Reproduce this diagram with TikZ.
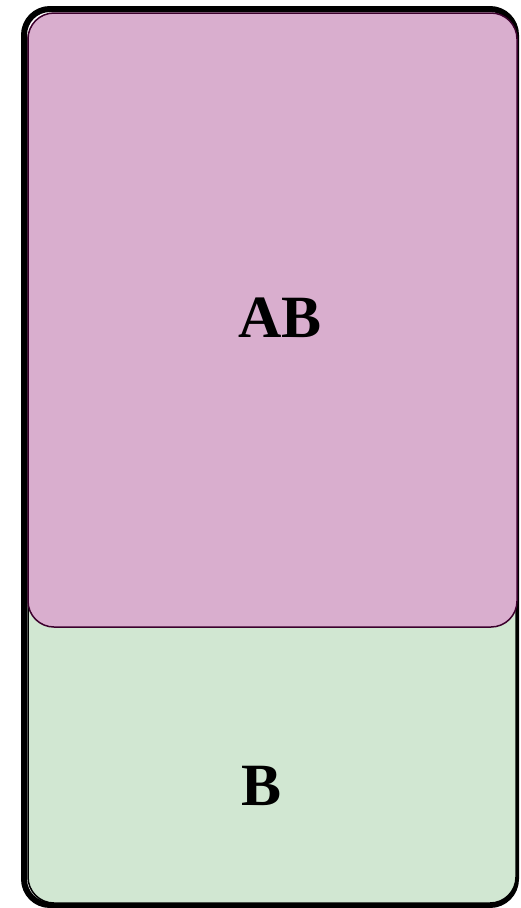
\documentclass[tikz,border=0pt]{standalone}
\usepackage{fontspec}
\setmainfont{Liberation Serif}
\definecolor{pinkfill}{RGB}{217,174,206}
\definecolor{pinkdraw}{RGB}{60,0,45}
\definecolor{greenfill}{RGB}{209,231,210}
\begin{document}
\begin{tikzpicture}[x=1pt,y=-1pt,
  frame/.style={draw=black,line width=6pt,rounded corners=26pt},
  region/.style={line width=1.5pt,rounded corners=26pt},
  lbl/.style={font=\fontsize{60}{60}\selectfont\bfseries}]
\useasboundingbox (0,0) rectangle (520,908);
\draw[frame] (24,9) rectangle (516,905);
\filldraw[region,fill=greenfill,draw=black] (28,14) rectangle (516,903);
\filldraw[region,fill=pinkfill,draw=pinkdraw] (28,13) rectangle (517,627);
\node[lbl] (ab) at (280,318) {AB};
\node[lbl] (b) at (262,786) {B};
\end{tikzpicture}
\end{document}
